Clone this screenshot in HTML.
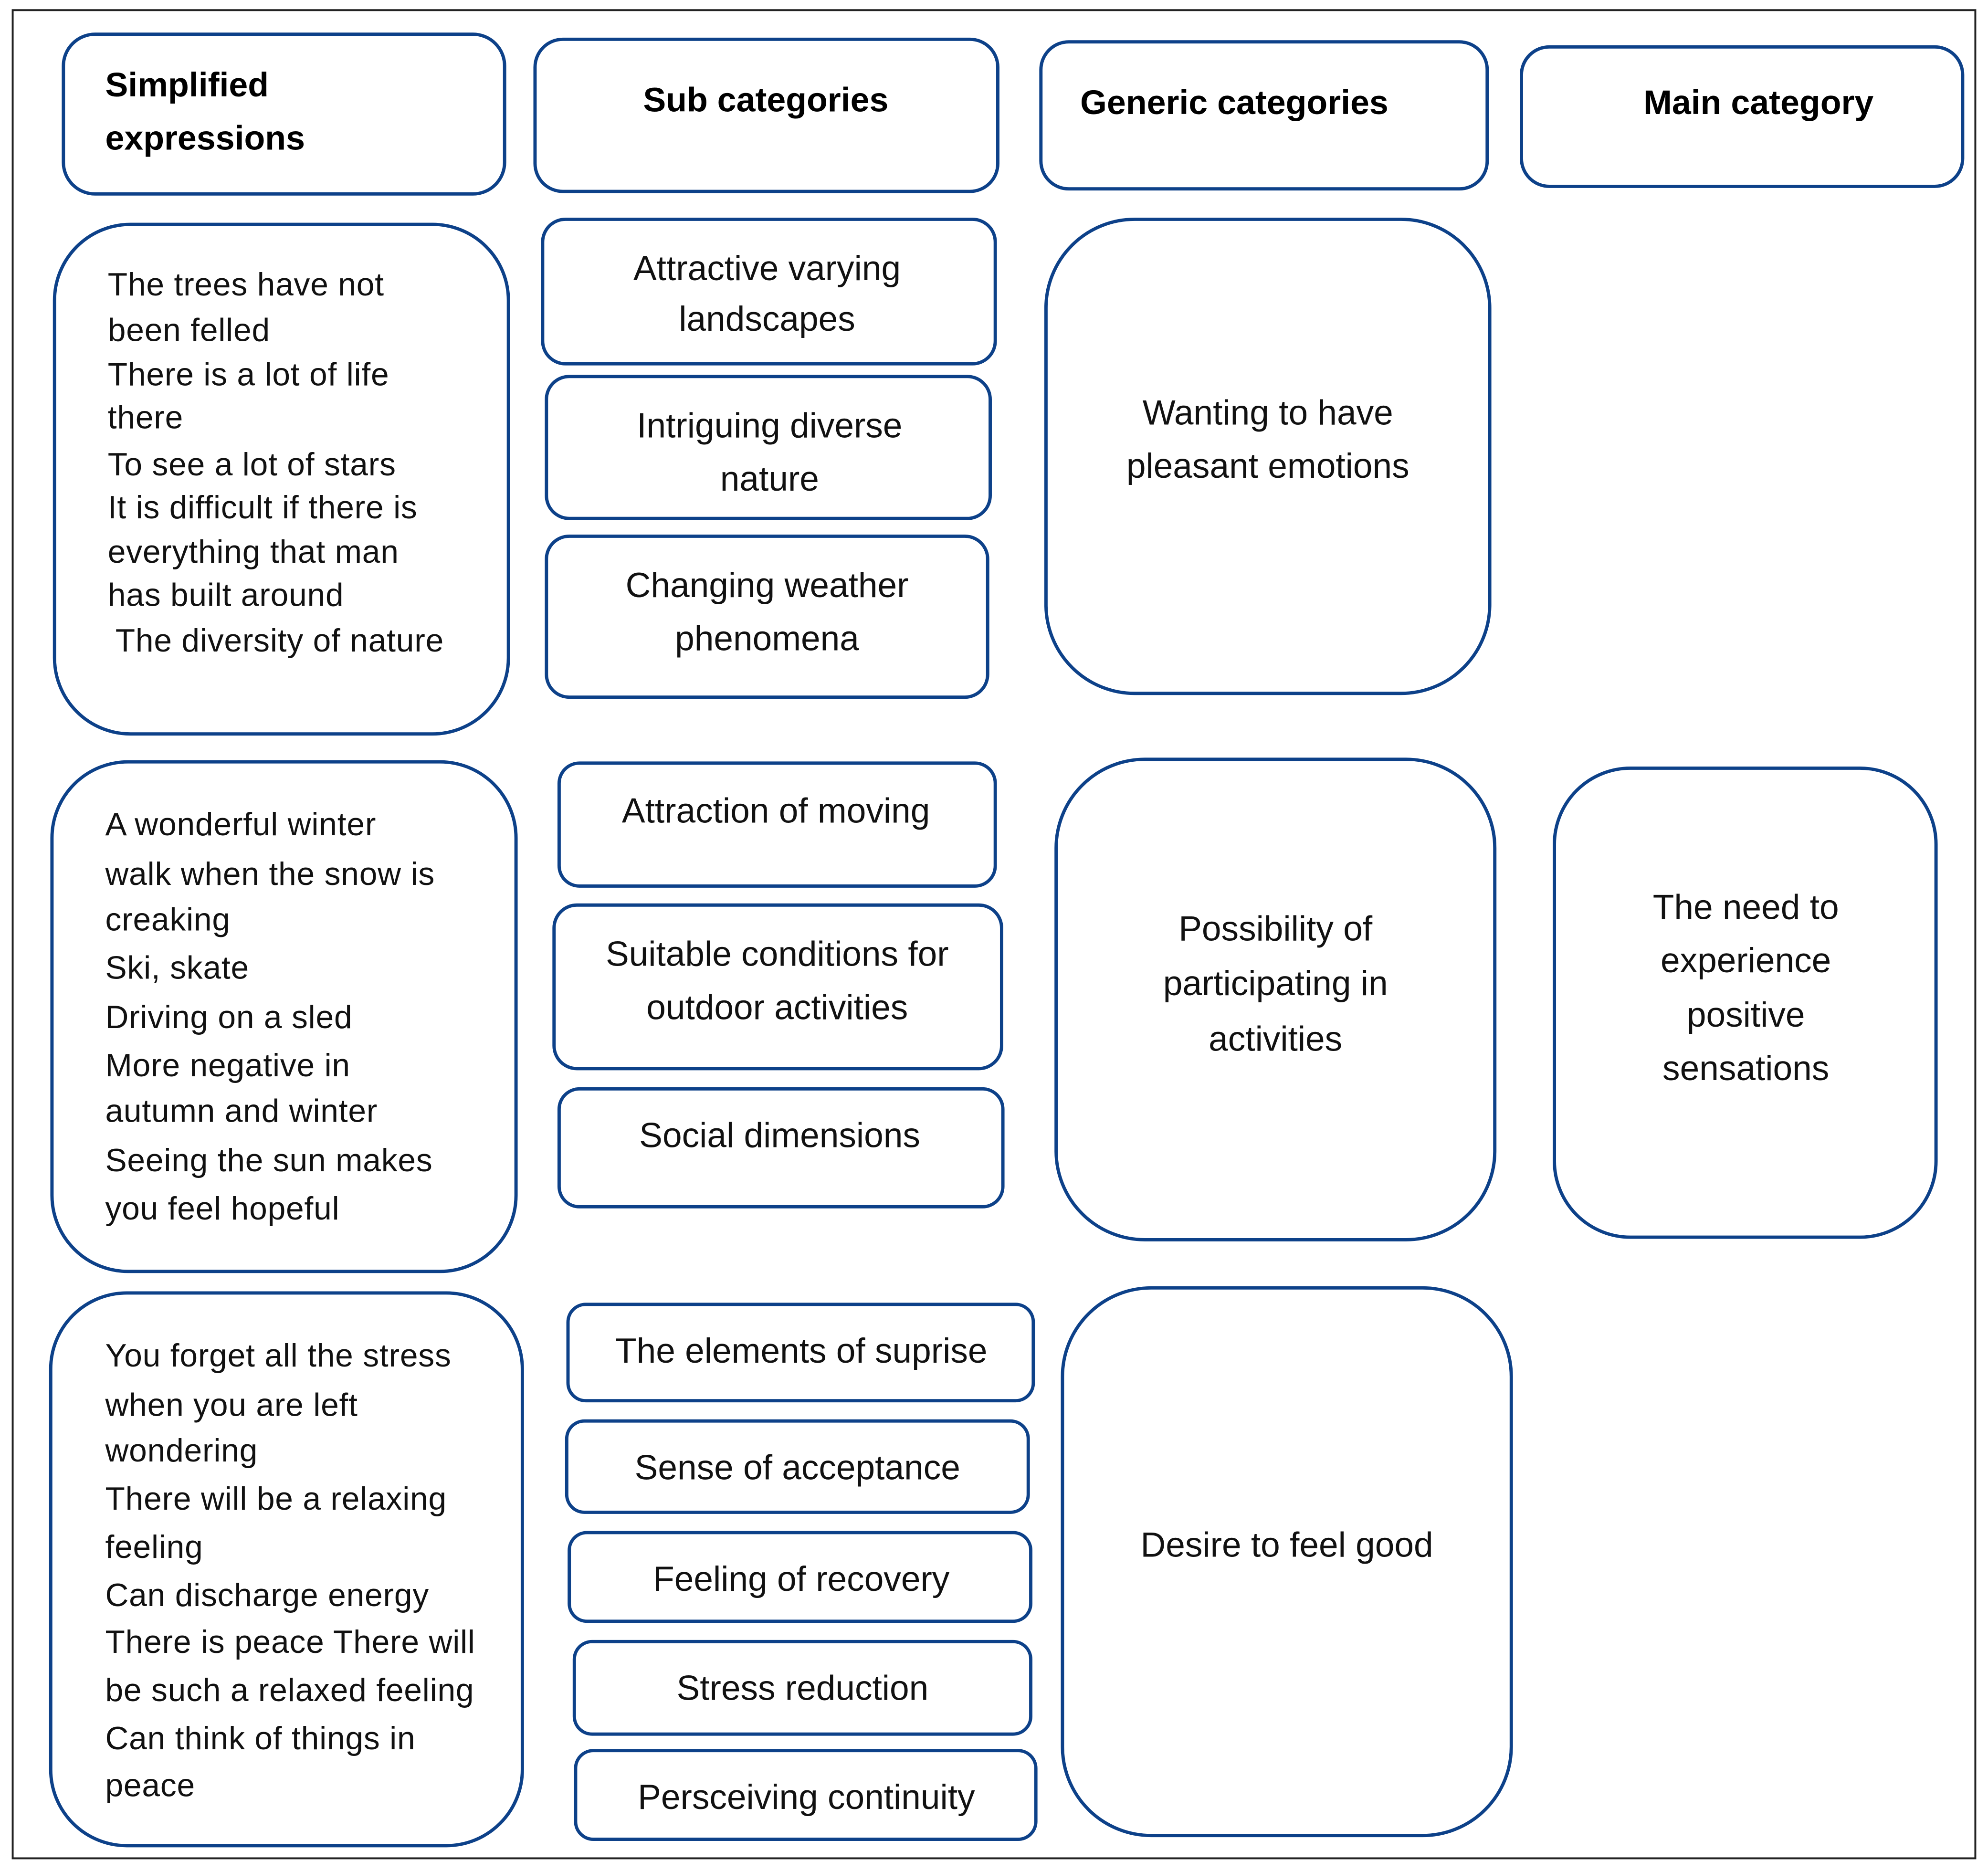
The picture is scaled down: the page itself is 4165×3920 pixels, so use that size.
<!DOCTYPE html>
<html><head><meta charset="utf-8"><style>html,body{margin:0;padding:0;background:#fff}svg{display:block}</style></head>
<body>
<svg xmlns="http://www.w3.org/2000/svg" width="4165" height="3920" viewBox="0 0 1568 1476" preserveAspectRatio="none" font-family="Liberation Sans, sans-serif">
<rect x="0" y="0" width="1568" height="1476" fill="#fff"/>
<rect x="10" y="8" width="1548" height="1458" fill="none" stroke="#222" stroke-width="1.5"/>
<g fill="none" stroke="#0d4189" stroke-width="2.6">
<rect x="50" y="27" width="348" height="126" rx="25"/>
<rect x="422" y="31" width="365" height="120" rx="22"/>
<rect x="821" y="33" width="352" height="116" rx="22"/>
<rect x="1200" y="37" width="348" height="110" rx="22"/>
<rect x="43" y="177" width="358" height="402" rx="60"/>
<rect x="428" y="173" width="357" height="114" rx="18"/>
<rect x="431" y="297" width="350" height="112" rx="18"/>
<rect x="431" y="423" width="348" height="127" rx="18"/>
<rect x="825" y="173" width="350" height="374" rx="70"/>
<rect x="41" y="601" width="366" height="402" rx="60"/>
<rect x="441" y="602" width="344" height="97" rx="16"/>
<rect x="437" y="714" width="353" height="129" rx="18"/>
<rect x="441" y="859" width="350" height="93" rx="16"/>
<rect x="833" y="599" width="346" height="379" rx="70"/>
<rect x="1226" y="606" width="301" height="370" rx="60"/>
<rect x="40" y="1020" width="372" height="436" rx="60"/>
<rect x="448" y="1029" width="367" height="76" rx="14"/>
<rect x="447" y="1121" width="364" height="72" rx="14"/>
<rect x="449" y="1209" width="364" height="70" rx="14"/>
<rect x="453" y="1295" width="360" height="73" rx="14"/>
<rect x="454" y="1381" width="363" height="70" rx="14"/>
<rect x="838" y="1016" width="354" height="432" rx="70"/>
</g>
<g font-weight="bold" font-size="27" fill="#000">
<text x="83" y="76">Simplified</text>
<text x="83" y="118">expressions</text>
<text x="604" y="88" text-anchor="middle">Sub categories</text>
<text x="852" y="90">Generic categories</text>
<text x="1387" y="90" text-anchor="middle">Main category</text>
</g>
<g font-size="25.5" fill="#111" letter-spacing="0.3">
<text x="85" y="233">The trees have not</text>
<text x="85" y="269">been felled</text>
<text x="85" y="304">There is a lot of life</text>
<text x="85" y="338">there</text>
<text x="85" y="375">To see  a lot of stars</text>
<text x="85" y="409">It is difficult if there is</text>
<text x="85" y="444">everything that man</text>
<text x="85" y="478">has built around</text>
<text x="91" y="514">The diversity of nature</text>
<text x="83" y="659">A wonderful winter</text>
<text x="83" y="698">walk when the snow is</text>
<text x="83" y="734">creaking</text>
<text x="83" y="772">Ski, skate</text>
<text x="83" y="811">Driving on a sled</text>
<text x="83" y="849">More negative in</text>
<text x="83" y="885">autumn and winter</text>
<text x="83" y="924">Seeing the sun makes</text>
<text x="83" y="962">you feel hopeful</text>
<text x="83" y="1078">You forget all the stress</text>
<text x="83" y="1117">when you are left</text>
<text x="83" y="1153">wondering</text>
<text x="83" y="1191">There will be a relaxing</text>
<text x="83" y="1229">feeling</text>
<text x="83" y="1267">Can discharge energy</text>
<text x="83" y="1304">There is peace There will</text>
<text x="83" y="1342">be such a relaxed feeling</text>
<text x="83" y="1380">Can think of things in</text>
<text x="83" y="1417">peace</text>
</g>
<g font-size="27.5" fill="#111" text-anchor="middle">
<text x="605" y="221">Attractive varying</text>
<text x="605" y="261">landscapes</text>
<text x="607" y="345">Intriguing diverse</text>
<text x="607" y="387">nature</text>
<text x="605" y="471">Changing  weather</text>
<text x="605" y="513">phenomena</text>
<text x="1000" y="335">Wanting to have</text>
<text x="1000" y="377">pleasant emotions</text>
<text x="612" y="649">Attraction of moving</text>
<text x="613" y="762">Suitable conditions for</text>
<text x="613" y="804">outdoor activities</text>
<text x="615" y="905">Social dimensions</text>
<text x="1006" y="742">Possibility of</text>
<text x="1006" y="785">participating in</text>
<text x="1006" y="829">activities</text>
<text x="1377" y="725">The need to</text>
<text x="1377" y="767">experience</text>
<text x="1377" y="810">positive</text>
<text x="1377" y="852">sensations</text>
<text x="632" y="1075">The elements of suprise</text>
<text x="629" y="1167">Sense of acceptance</text>
<text x="632" y="1255">Feeling of recovery</text>
<text x="633" y="1341">Stress reduction</text>
<text x="636" y="1427">Persceiving continuity</text>
<text x="1015" y="1228">Desire to feel good</text>
</g>
</svg>
</body></html>
